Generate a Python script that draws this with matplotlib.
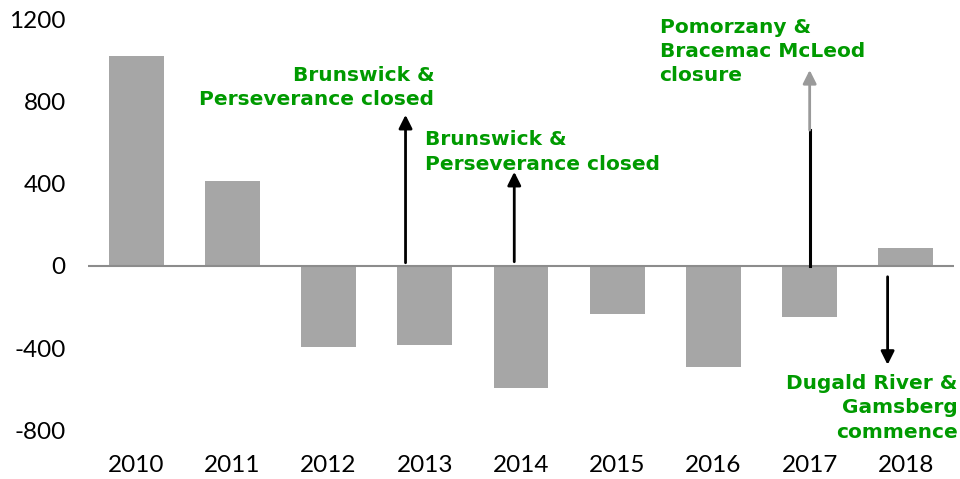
import matplotlib.pyplot as plt
import numpy as np

plt.rcParams["axes.unicode_minus"] = False

# ---------------- data ----------------
years = ["2010", "2011", "2012", "2013", "2014", "2015", "2016", "2017", "2018"]
values = [1020, 413, -394, -384, -593, -233, -491, -248, 87]

yticks = [-800, -400, 0, 400, 800, 1200]

# annotation arrows: x (category index), start, end
arrow_x = [2.80, 3.93, 7.81]
arrow_from = [15, 20, -53]
arrow_to = [734, 457, -481]

# 2017 arrow: solid part then faded part
arrow17_x = 7.0
arrow17_mid = 660
arrow17_top = 952

notes = [
    "Brunswick &\nPerseverance closed",
    "Brunswick &\nPerseverance closed",
    "Pomorzany &\nBracemac McLeod\nclosure",
    "Dugald River &\nGamsberg\ncommence",
]
note_x = [3.10, 3.00, 5.44, 8.54]
note_y = [868, 554, 1043, -690]
note_ha = ["right", "left", "left", "right"]

GREEN = "#009a00"
BAR = "#a6a6a6"

# ---------------- figure ----------------
fig = plt.figure(figsize=(9.6, 4.79), dpi=100)
ax = fig.add_axes([88 / 960, 1 - 451 / 479, (954 - 88) / 960, (451 - 19) / 479])

x = np.arange(len(years))
ax.bar(x, values, width=0.57, color=BAR, zorder=2)
ax.axhline(0, color="#8c8c8c", lw=1.5, zorder=3)

ax.set_xlim(-0.5, len(years) - 0.5)
ax.set_ylim(-900, 1200)
ax.set_yticks(yticks)
ax.set_xticks(x)
ax.set_xticklabels(years)
for s in ax.spines.values():
    s.set_visible(False)
ax.tick_params(length=0, labelsize=17.5, pad=3)
ax.tick_params(axis="y", pad=16)
for lab in ax.get_xticklabels() + ax.get_yticklabels():
    lab.set_fontfamily("Lato")

# arrows
for xa, y0, y1 in zip(arrow_x, arrow_from, arrow_to):
    ax.annotate("", xy=(xa, y1), xytext=(xa, y0),
                arrowprops=dict(arrowstyle="-|>", color="black", lw=2,
                                mutation_scale=20, shrinkA=0, shrinkB=0),
                zorder=4)

ax.plot([arrow17_x, arrow17_x], [0, arrow17_mid], color="black", lw=2.2, zorder=4)
ax.annotate("", xy=(arrow17_x, arrow17_top), xytext=(arrow17_x, arrow17_mid),
            arrowprops=dict(arrowstyle="-|>", color="#9a9a9a", lw=2,
                            mutation_scale=20, shrinkA=0, shrinkB=0),
            zorder=4)

# notes
for txt, xn, yn, ha in zip(notes, note_x, note_y, note_ha):
    ax.text(xn, yn, txt, ha=ha, va="center", color=GREEN, fontsize=14.5,
            fontweight="bold", family="DejaVu Sans", linespacing=1.35,
            multialignment=ha)

fig.savefig("out.png", dpi=100)
